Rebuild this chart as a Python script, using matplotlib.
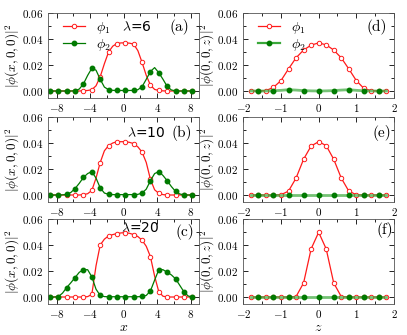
import numpy as np
import matplotlib
matplotlib.use("Agg")
import matplotlib.pyplot as plt
from matplotlib.ticker import MultipleLocator, FormatStrFormatter

plt.rcParams['font.family'] = 'serif'
plt.rcParams['font.serif'] = ['cmr10', 'DejaVu Serif']
plt.rcParams['mathtext.fontset'] = 'cm'
plt.rcParams['axes.formatter.use_mathtext'] = True

# x grid of the left panels (line every 0.5, marker every 1.0)
x_left = np.arange(-8.8, 8.3, 0.5)
# z grid of the right panels
z_right = np.arange(-1.8, 1.81, 0.2)

lambdas = ['6', '10', '20']
tags_left = ['(a)', '(b)', '(c)']
tags_right = ['(d)', '(e)', '(f)']

# |phi(x,0,0)|^2
phi1_x = [
    [0, 0, 0, 0, 0, 0, 0, 0, 0.0002, 0.0004, 0.001, 0.004, 0.011, 0.021, 0.030, 0.0345, 0.0365,
     0.037, 0.037, 0.0368, 0.036, 0.031, 0.022, 0.012, 0.0045, 0.0012, 0.0004, 0.0001, 0, 0, 0, 0, 0, 0, 0],
    [0, 0, 0, 0, 0, 0, 0, 0, 0.0003, 0.001, 0.0035, 0.013, 0.025, 0.034, 0.038, 0.040, 0.041,
     0.041, 0.041, 0.0405, 0.0395, 0.037, 0.033, 0.025, 0.012, 0.004, 0.0013, 0.0003, 0, 0, 0, 0, 0, 0, 0],
    [0, 0, 0, 0, 0, 0, 0, 0, 0, 0.0003, 0.002, 0.024, 0.040, 0.0445, 0.047, 0.048, 0.0488,
     0.0493, 0.0495, 0.049, 0.048, 0.0465, 0.0437, 0.039, 0.031, 0.016, 0.004, 0.0006, 0, 0, 0, 0, 0, 0, 0],
]
phi2_x = [
    [0, 0, 0, 0, 0, 0, 0.0002, 0.0015, 0.0055, 0.012, 0.0175, 0.016, 0.009, 0.003, 0.001, 0.0005, 0.0004,
     0.0004, 0.0004, 0.0004, 0.0005, 0.001, 0.0033, 0.009, 0.015, 0.018, 0.014, 0.009, 0.0035, 0.0008, 0.0001,
     0, 0, 0, 0],
    [0, 0, 0, 0.0001, 0.0005, 0.002, 0.005, 0.009, 0.0135, 0.0165, 0.018, 0.013, 0.0055, 0.0015, 0.0005,
     0.0003, 0.0003, 0.0003, 0.0003, 0.0003, 0.0003, 0.0005, 0.0015, 0.0045, 0.011, 0.0165, 0.018, 0.015,
     0.011, 0.0065, 0.0028, 0.0008, 0.0001, 0, 0],
    [0, 0, 0.0003, 0.003, 0.0073, 0.011, 0.015, 0.019, 0.021, 0.021, 0.0155, 0.006, 0.0012, 0.0003,
     0.0002, 0.0002, 0.0002, 0.0002, 0.0002, 0.0002, 0.0002, 0.0002, 0.0004, 0.0012, 0.0047, 0.013, 0.021,
     0.021, 0.019, 0.017, 0.014, 0.009, 0.004, 0.0008, 0],
]

# |phi(0,0,z)|^2
phi1_z = [
    [0, 0, 0.0003, 0.0028, 0.008, 0.017, 0.0255, 0.0315, 0.0353, 0.037, 0.0355, 0.0315, 0.0255, 0.017,
     0.008, 0.002, 0.0002, 0, 0],
    [0, 0, 0, 0, 0.0002, 0.003, 0.013, 0.0275, 0.0377, 0.041, 0.038, 0.0275, 0.013, 0.003, 0.0002, 0, 0, 0, 0],
    [0, 0, 0, 0, 0, 0, 0.0003, 0.0108, 0.037, 0.0498, 0.037, 0.0108, 0.0003, 0, 0, 0, 0, 0, 0],
]
phi2_z = [
    [0, 0, 0, 0.0002, 0.0005, 0.001, 0.0007, 0.0003, 0.0001, 0, 0.0001, 0.0003, 0.0007, 0.001, 0.0005,
     0.0002, 0, 0, 0],
    [0] * 19,
    [0] * 19,
]

red = '#ff1a1a'
green = '#007a00'

fig = plt.figure(figsize=(4.07, 3.35), dpi=100)
W, H = 407, 335
row_tops = [13, 117, 219]
axh = 84.5


def style(ax, xlim, major, minor):
    ax.set_ylim(-0.005, 0.06)
    ax.set_xlim(*xlim)
    ax.yaxis.set_major_locator(MultipleLocator(0.02))
    ax.yaxis.set_minor_locator(MultipleLocator(0.01))
    ax.xaxis.set_major_locator(MultipleLocator(major))
    ax.xaxis.set_minor_locator(MultipleLocator(minor))
    ax.yaxis.set_major_formatter(FormatStrFormatter('$%.2f$'))
    ax.tick_params(which='both', direction='in', top=True, right=True, labelsize=8, width=0.6)
    ax.tick_params(which='major', length=3.5)
    ax.tick_params(which='minor', length=2)
    for s in ax.spines.values():
        s.set_linewidth(0.6)
        s.set_color('#555555')


for i in range(3):
    bottom = 1 - (row_tops[i] + axh) / H
    axl = fig.add_axes([48.3 / W, bottom, 150.7 / W, axh / H])
    axr = fig.add_axes([243.3 / W, bottom, 150.7 / W, axh / H])

    axl.plot(x_left, phi1_x[i], '-o', color=red, lw=0.9, ms=3.2, mfc='white', mec=red, mew=0.7,
             markevery=2)
    axl.plot(x_left, phi2_x[i], '-o', color=green, lw=0.9, ms=3.2, mfc=green, mec=green,
             markevery=2)
    style(axl, (-9, 9), 4, 2)
    axl.set_ylabel(r'$|\phi(x,0,0)|^2$', fontsize=9.5, labelpad=0)

    axr.plot(z_right, phi1_z[i], '-o', color=red, lw=0.9, ms=3.2, mfc='white', mec=red, mew=0.7)
    axr.plot(z_right, phi2_z[i], '-', color='#3aa83a', lw=2, alpha=0.7)
    axr.plot(z_right, phi2_z[i], 'o', color=green, ms=3.2, markevery=(1, 2))
    style(axr, (-2, 2), 1, 0.5)
    axr.set_ylabel(r'$|\phi(0,0,z)|^2$', fontsize=9.5, labelpad=0)

    if i == 0:
        for ax, glw, gcol in ((axl, 0.9, green), (axr, 1.6, '#3aa83a')):
            h1 = ax.plot([], [], '-o', color=red, lw=0.9, ms=3.2, mfc='white', mec=red, mew=0.7)[0]
            h2 = ax.plot([], [], '-o', color=gcol, lw=glw, ms=3.2, mfc=green, mec=green)[0]
            ax.legend([h1, h2], [r'$\phi_1$', r'$\phi_2$'], loc='upper left', frameon=False,
                      fontsize=10, handlelength=1.6, labelspacing=0.05, handletextpad=0.8,
                      borderaxespad=0.1, bbox_to_anchor=(0.05, 1.0))
    if i == 2:
        axl.set_xlabel(r'$x$', fontsize=10, labelpad=1)
        axr.set_xlabel(r'$z$', fontsize=10, labelpad=1)

    lam_pos = [(0.59, 0.84), (0.65, 0.81), (0.61, 0.89)][i]
    tag_l = [(0.873, 0.84), (0.885, 0.81), (0.907, 0.85)][i]
    tag_r = [(0.885, 0.84), (0.918, 0.81), (0.94, 0.87)][i]
    axl.text(*lam_pos, r'$\lambda$=' + lambdas[i], transform=axl.transAxes, ha='center', va='center',
             fontsize=10, family='DejaVu Sans', zorder=5)
    axl.text(*tag_l, tags_left[i], transform=axl.transAxes, ha='center', va='center', fontsize=11)
    axr.text(*tag_r, tags_right[i], transform=axr.transAxes, ha='center', va='center', fontsize=11)

fig.savefig('out.png', dpi=100)
